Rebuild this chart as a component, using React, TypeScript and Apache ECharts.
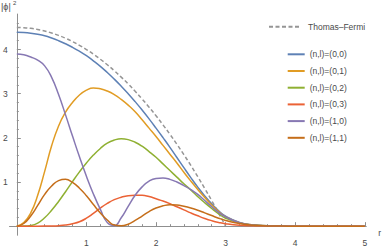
import React, { useEffect, useRef } from 'react';
import * as echarts from 'echarts';

// radial coordinate samples
const r = [0, 0.1, 0.2, 0.3, 0.4, 0.5, 0.6, 0.7, 0.8, 0.9, 1.0, 1.1, 1.2, 1.3, 1.4, 1.5, 1.6, 1.7, 1.8, 1.9, 2.0,
  2.1, 2.2, 2.3, 2.4, 2.5, 2.6, 2.7, 2.8, 2.9, 3.0, 3.2, 3.4, 3.6, 3.8, 4.0, 5.0];

const thomasFermi = [4.5, 4.495, 4.48, 4.455, 4.42, 4.375, 4.32, 4.255, 4.18, 4.095, 4.0, 3.895, 3.78, 3.655, 3.52,
  3.375, 3.22, 3.055, 2.88, 2.695, 2.5, 2.295, 2.08, 1.855, 1.62, 1.375, 1.12, 0.855, 0.58, 0.295, 0,
  null, null, null, null, null, null];

const n0l0 = [4.39, 4.385, 4.37, 4.345, 4.31, 4.26, 4.2, 4.13, 4.05, 3.96, 3.86, 3.745, 3.62, 3.48, 3.33, 3.17, 3.0,
  2.82, 2.63, 2.43, 2.22, 2.005, 1.785, 1.555, 1.325, 1.1, 0.885, 0.685, 0.505, 0.35, 0.225, 0.085, 0.03, 0.01,
  0.003, 0, 0];

const n0l1 = [0, 0.08, 0.3, 0.7, 1.24, 1.82, 2.27, 2.58, 2.8, 2.97, 3.08, 3.13, 3.11, 3.06, 2.98, 2.87, 2.74, 2.59,
  2.41, 2.22, 2.03, 1.83, 1.63, 1.43, 1.22, 1.02, 0.83, 0.65, 0.48, 0.33, 0.21, 0.08, 0.028, 0.009, 0.002, 0, 0];

const n0l2 = [0, 0.001, 0.015, 0.07, 0.19, 0.36, 0.56, 0.78, 1.01, 1.23, 1.43, 1.61, 1.76, 1.88, 1.95, 1.98, 1.96,
  1.9, 1.81, 1.69, 1.56, 1.41, 1.26, 1.11, 0.96, 0.82, 0.67, 0.53, 0.4, 0.28, 0.18, 0.07, 0.02, 0.006, 0.001, 0, 0];

const n0l3 = [0, 0, 0, 0, 0.001, 0.004, 0.011, 0.026, 0.055, 0.1, 0.18, 0.29, 0.41, 0.515, 0.6, 0.655, 0.69, 0.7,
  0.7, 0.67, 0.62, 0.57, 0.51, 0.44, 0.37, 0.3, 0.235, 0.175, 0.125, 0.085, 0.055, 0.02, 0.007, 0.002, 0, 0, 0];

const n1l0 = [3.9, 3.88, 3.83, 3.76, 3.63, 3.37, 2.98, 2.52, 2.04, 1.57, 1.13, 0.73, 0.38, 0.08, 0.012, 0.19, 0.45,
  0.7, 0.89, 1.02, 1.08, 1.09, 1.06, 1.0, 0.92, 0.83, 0.72, 0.58, 0.44, 0.31, 0.21, 0.08, 0.025, 0.007, 0.002, 0, 0];

const n1l1 = [0, 0.06, 0.23, 0.47, 0.72, 0.91, 1.03, 1.06, 0.99, 0.86, 0.69, 0.49, 0.3, 0.14, 0.025, 0.008, 0.045,
  0.13, 0.23, 0.33, 0.41, 0.46, 0.485, 0.48, 0.45, 0.41, 0.36, 0.3, 0.24, 0.18, 0.13, 0.06, 0.02, 0.006, 0.001, 0, 0];

const stateNames = ['(n,l)=(0,0)', '(n,l)=(0,1)', '(n,l)=(0,2)', '(n,l)=(0,3)', '(n,l)=(1,0)', '(n,l)=(1,1)'];
const stateValues = [n0l0, n0l1, n0l2, n0l3, n1l0, n1l1];
const stateColors = ['#5E81B5', '#E19C24', '#8FB032', '#EB6235', '#8778B3', '#C56E1A'];

const xMajor = [1, 2, 3, 4, 5];
const xMinor = [0.2, 0.4, 0.6, 0.8, 1.2, 1.4, 1.6, 1.8, 2.2, 2.4, 2.6, 2.8, 3.2, 3.4, 3.6, 3.8, 4.2, 4.4, 4.6, 4.8];
const yMajor = [1, 2, 3, 4];
const yMinor = [0.2, 0.4, 0.6, 0.8, 1.2, 1.4, 1.6, 1.8, 2.2, 2.4, 2.6, 2.8, 3.2, 3.4, 3.6, 3.8, 4.2, 4.4, 4.6];

const FONT = 'Liberation Sans, Arial, sans-serif';
const AXIS_COLOR = '#8f8f8f';
const TEXT_COLOR = '#4a4a4a';

export default function App() {
  const ref = useRef<HTMLDivElement>(null);
  useEffect(() => {
    if (!ref.current) return;
    const chart = echarts.init(ref.current, null, { renderer: 'svg' });
    const toPairs = (vals: (number | null)[]) =>
      r.map((x, i) => (vals[i] == null ? null : [x, vals[i]])).filter((p) => p !== null);

    const xmin = -0.102, xmax = 5.017, ymin = -0.2, ymax = 4.8;
    const axisLineStyle = { color: AXIS_COLOR, width: 1 };

    const series: any[] = [
      {
        name: 'Thomas–Fermi', type: 'line', smooth: true, symbol: 'none', showSymbol: false,
        data: toPairs(thomasFermi),
        lineStyle: { color: '#959595', width: 1.5, type: [4, 2.5] },
        itemStyle: { color: '#959595' },
      },
      ...stateNames.map((name, i) => ({
        name, type: 'line', smooth: true, symbol: 'none', showSymbol: false,
        data: toPairs(stateValues[i]),
        lineStyle: { color: stateColors[i], width: 1.5 },
        itemStyle: { color: stateColors[i] },
      })),
    ];

    const legendText = { fontSize: 8.5, lineHeight: 12, color: TEXT_COLOR, fontFamily: FONT };

    chart.setOption({
      animation: false,
      grid: { left: 0, top: 14.2, width: 366, height: 230, containLabel: false },
      xAxis: [
        {
          type: 'value', min: xmin, max: xmax, position: 'bottom',
          axisLine: { show: true, onZero: true, onZeroAxisIndex: 0, lineStyle: axisLineStyle },
          axisTick: { show: true, inside: true, length: 4, customValues: xMajor, lineStyle: axisLineStyle },
          axisLabel: { show: true, customValues: xMajor, margin: 3, fontSize: 8.5, color: TEXT_COLOR, fontFamily: FONT },
          splitLine: { show: false },
        },
        {
          type: 'value', min: xmin, max: xmax, position: 'bottom',
          axisLine: { show: true, onZero: true, onZeroAxisIndex: 0, lineStyle: axisLineStyle },
          axisTick: { show: true, inside: true, length: 2, customValues: xMinor, lineStyle: axisLineStyle },
          axisLabel: { show: false },
          splitLine: { show: false },
        },
      ],
      yAxis: [
        {
          type: 'value', min: ymin, max: ymax, position: 'left',
          axisLine: { show: true, onZero: true, onZeroAxisIndex: 0, lineStyle: axisLineStyle },
          axisTick: { show: true, inside: true, length: 4, customValues: yMajor, lineStyle: axisLineStyle },
          axisLabel: { show: true, customValues: yMajor, margin: 2, fontSize: 8.5, color: TEXT_COLOR, fontFamily: FONT },
          splitLine: { show: false },
        },
        {
          type: 'value', min: ymin, max: ymax, position: 'left',
          axisLine: { show: true, onZero: true, onZeroAxisIndex: 0, lineStyle: axisLineStyle },
          axisTick: { show: true, inside: true, length: 2, customValues: yMinor, lineStyle: axisLineStyle },
          axisLabel: { show: false },
          splitLine: { show: false },
        },
      ],
      legend: [
        {
          data: ['Thomas–Fermi'], orient: 'vertical', left: 268, top: 20.7, padding: 0,
          itemWidth: 30, itemHeight: 10, selectedMode: false,
          itemStyle: { opacity: 0 },
          textStyle: { ...legendText, padding: [0, 0, 0, 4] },
        },
        {
          data: stateNames, orient: 'vertical', left: 286.7, top: 48.3, padding: 0,
          itemWidth: 17, itemHeight: 10, itemGap: 4.7, selectedMode: false,
          itemStyle: { opacity: 0 },
          textStyle: legendText,
        },
      ],
      graphic: [
        { type: 'text', left: 1, top: 2, style: { text: '|ϕ|', fontSize: 9, fill: TEXT_COLOR, fontFamily: FONT } },
        { type: 'text', left: 13, top: 0, style: { text: '2', fontSize: 6, fill: TEXT_COLOR, fontFamily: FONT } },
        { type: 'text', right: 1, top: 228, style: { text: 'r', fontSize: 8.5, fill: TEXT_COLOR, fontFamily: FONT } },
      ],
      series,
    });
    return () => chart.dispose();
  }, []);
  return <div ref={ref} style={{ position: 'absolute', left: 0, top: 0, width: 382, height: 247 }} />;
}
